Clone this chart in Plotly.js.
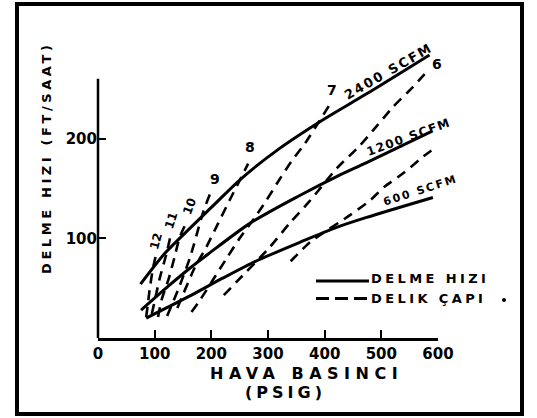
<!DOCTYPE html>
<html>
<head>
<meta charset="utf-8">
<script src="https://cdn.plot.ly/plotly-3.0.1.min.js"></script>
<style>
html, body { margin: 0; padding: 0; background: #fff; }
#chart { width: 537px; height: 418px; }
</style>
</head>
<body>
<div id="chart"></div>
<script>
// ---- Data ----
// Solid curves: DELME HIZI (penetration rate, ft/saat) vs HAVA BASINCI (psig)
const s2400_x = [75, 118, 162, 200, 253, 320, 400, 474, 585];
const s2400_y = [54, 85, 110, 131, 160, 190, 220, 245, 284];
const s1200_x = [76, 124, 162, 194, 268, 356, 421, 474, 588];
const s1200_y = [28, 52, 70, 84, 115, 143, 162, 176, 207];
const s600_x  = [85, 165, 220, 282, 356, 421, 474, 591];
const s600_y  = [20, 43, 60, 78, 96, 111, 121, 141];

// Dashed curves: DELIK ÇAPI (hole diameter)
const d5_x  = [340, 374, 444, 480, 506, 538, 574, 595];
const d5_y  = [77, 96, 123, 138, 152, 165, 182, 191];
const d6_x  = [222, 244, 303, 338, 373, 421, 462, 491, 521, 556, 580];
const d6_y  = [43, 56, 91, 115, 137, 170, 193, 212, 232, 252, 267];
const d7_x  = [165, 180, 227, 250, 277, 297, 318, 341, 365, 412];
const d7_y  = [26, 38, 80, 100, 121, 138, 157, 177, 195, 237];
const d8_x  = [140, 171, 191, 212, 232, 250, 265];
const d8_y  = [30, 71, 91, 115, 138, 158, 175];
const d9_x  = [122, 141, 162, 186, 198];
const d9_y  = [22, 48, 80, 127, 145];
const d10_x = [106, 112, 124, 135, 144, 156];
const d10_y = [21, 38, 58, 81, 101, 116];
const d11_x = [95, 109, 121, 129];
const d11_y = [24, 60, 85, 105];
const d12_x = [85, 88, 91, 97, 103];
const d12_y = [21, 34, 48, 70, 85];

// Labels
const solidLabels = ["2400 SCFM", "1200 SCFM", "600 SCFM"];
const dashLabels = ["5", "6", "7", "8", "9", "10", "11", "12"];
const xTickVals = [0, 100, 200, 300, 400, 500, 600];
const xTickText = ["0", "100", "200", "300", "400", "500", "600"];
const yTickVals = [100, 200];
const yTickText = ["100", "200"];
const yTitle = "DELME HIZI (FT/SAAT)";
const xTitle1 = "HAVA BASINCI";
const xTitle2 = "(PSIG)";
const legendSolid = "DELME HIZI";
const legendDash = "DELIK ÇAPI";

// ---- Layout geometry ----
const W = 537, H = 418;
const ML = 98, MR = 99, MT = 39, MB = 80;
const PW = W - ML - MR, PH = H - MT - MB;
const YMAX = 300, YAXIS_TOP = 260;
const px2x = p => (p - ML) / PW;
const py2y = p => 1 - (p - MT) / PH;

const FONT = "DejaVu Sans, Liberation Sans, sans-serif";
const INK = "#000";

function solid(x, y) {
  return { x, y, type: "scatter", mode: "lines", showlegend: false, hoverinfo: "skip",
    line: { color: INK, width: 3, shape: "spline", smoothing: 0.8 } };
}
function dashed(x, y) {
  return { x, y, type: "scatter", mode: "lines", showlegend: false, hoverinfo: "skip",
    line: { color: INK, width: 2.6, dash: "10px,7px", shape: "spline", smoothing: 0.6 } };
}

const traces = [
  solid(s2400_x, s2400_y), solid(s1200_x, s1200_y), solid(s600_x, s600_y),
  dashed(d5_x, d5_y), dashed(d6_x, d6_y), dashed(d7_x, d7_y), dashed(d8_x, d8_y),
  dashed(d9_x, d9_y), dashed(d10_x, d10_y), dashed(d11_x, d11_y), dashed(d12_x, d12_y)
];

const annotations = [];
const spacing = [];
function addAnn(a, sp) {
  annotations.push(Object.assign({ showarrow: false, xanchor: "center", yanchor: "middle" }, a));
  spacing.push(sp || 0);
}
function f(size) { return { family: FONT, size: size, color: INK, weight: "bold" }; }

// Axis titles
addAnn({ xref: "paper", yref: "paper", x: px2x(46), y: py2y(157), text: yTitle, textangle: -90, font: f(13) }, 3.6);
addAnn({ xref: "paper", yref: "paper", x: px2x(306), y: py2y(373), text: xTitle1, font: f(16) }, 5.5);
addAnn({ xref: "paper", yref: "paper", x: px2x(285), y: py2y(392), text: xTitle2, font: f(16) }, 4);
// Legend texts
addAnn({ xref: "paper", yref: "paper", x: px2x(430), y: py2y(278), text: legendSolid, font: f(13) }, 3.4);
addAnn({ xref: "paper", yref: "paper", x: px2x(428), y: py2y(298), text: legendDash, font: f(13) }, 3.4);
// Curve labels
addAnn({ x: 512, y: 267, text: solidLabels[0], textangle: -30, font: f(13) }, 2);
addAnn({ x: 548, y: 202, text: solidLabels[1], textangle: -20, font: f(12) }, 1.5);
addAnn({ x: 569, y: 147.5, text: solidLabels[2], textangle: -18, font: f(11) }, 2);
// Dashed line labels
addAnn({ x: 606, y: 197, text: dashLabels[0], font: f(14) });
addAnn({ x: 598, y: 275, text: dashLabels[1], font: f(14) });
addAnn({ x: 413, y: 249, text: dashLabels[2], font: f(14) });
addAnn({ x: 269, y: 192, text: dashLabels[3], font: f(14) });
addAnn({ x: 206, y: 160, text: dashLabels[4], font: f(14) });
addAnn({ x: 162, y: 132.5, text: dashLabels[5], textangle: -70, font: f(12) });
addAnn({ x: 130, y: 118, text: dashLabels[6], textangle: -72, font: f(12) });
addAnn({ x: 103, y: 97, text: dashLabels[7], textangle: -75, font: f(12) });

// letter-spacing per annotation
let css = "";
spacing.forEach((s, i) => {
  if (s) css += `g.annotation[data-index="${i}"] text { letter-spacing: ${s}px; }\n`;
});
const st = document.createElement("style");
st.textContent = css;
document.head.appendChild(st);

const shapes = [
  // outer frame
  { type: "rect", xref: "paper", yref: "paper", x0: px2x(17), x1: px2x(522), y0: py2y(414), y1: py2y(4),
    line: { color: INK, width: 4 } },
  // y axis line (stops at 260 like the reference)
  { type: "line", xref: "paper", yref: "paper", x0: 0, x1: 0, y0: 0, y1: YAXIS_TOP / YMAX,
    line: { color: INK, width: 2.5 } },
  // legend samples
  { type: "line", xref: "paper", yref: "paper", x0: px2x(316), x1: px2x(369), y0: py2y(281), y1: py2y(281),
    line: { color: INK, width: 3 } },
  { type: "line", xref: "paper", yref: "paper", x0: px2x(316), x1: px2x(369), y0: py2y(298.5), y1: py2y(298.5),
    line: { color: INK, width: 3, dash: "13px,6px" } },
  // stray dot
  { type: "circle", xref: "paper", yref: "paper", x0: px2x(502), x1: px2x(506), y0: py2y(302), y1: py2y(298),
    fillcolor: INK, line: { color: INK, width: 0 } }
];

const axisCommon = {
  linecolor: INK, linewidth: 2.5,
  ticks: "inside", ticklen: 8, tickwidth: 2, tickcolor: INK,
  showgrid: false, zeroline: false, fixedrange: true,
  tickfont: f(15), tickmode: "array"
};

const layout = {
  width: W, height: H,
  margin: { l: ML, r: MR, t: MT, b: MB, pad: 0 },
  paper_bgcolor: "#fff", plot_bgcolor: "#fff",
  showlegend: false,
  xaxis: Object.assign({}, axisCommon, { showline: true, range: [0, 600], tickvals: xTickVals, ticktext: xTickText }),
  yaxis: Object.assign({}, axisCommon, { showline: false, range: [0, YMAX], tickvals: yTickVals, ticktext: yTickText }),
  annotations: annotations,
  shapes: shapes
};

Plotly.newPlot("chart", traces, layout, { displayModeBar: false, staticPlot: true });
</script>
</body>
</html>
